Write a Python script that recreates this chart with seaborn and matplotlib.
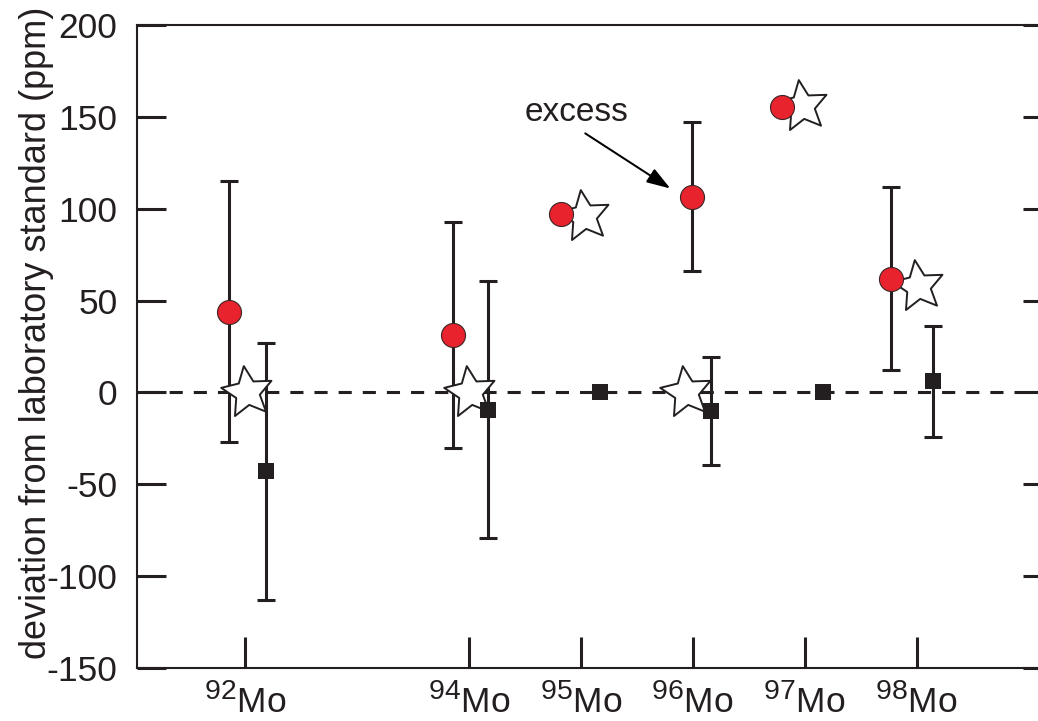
import numpy as np
import pandas as pd
import matplotlib
matplotlib.use("Agg")
import matplotlib.pyplot as plt
import matplotlib._mathtext as mathtext_internal
import seaborn as sns
from matplotlib.markers import MarkerStyle
from matplotlib.path import Path
from matplotlib.transforms import Affine2D

# ---------------- data ----------------
isotopes = [92, 94, 95, 96, 97, 98]
tick_labels = [r"$^{92}$Mo", r"$^{94}$Mo", r"$^{95}$Mo", r"$^{96}$Mo", r"$^{97}$Mo", r"$^{98}$Mo"]
y_ticks = [-150, -100, -50, 0, 50, 100, 150, 200]

# red circles (excess samples)
excess_x = [91.86, 93.86, 94.82, 95.99, 96.80, 97.77]
excess_y = [44, 31, 97, 106.5, 155.5, 62]
excess_err = [71, 61.5, None, 40.5, None, 50]

# open stars (model)
model_x = [92.02, 94.01, 95.03, 95.94, 96.98, 98.01]
model_y = [0, 0, 96, 0, 156, 58]

# black squares (standard)
standard_x = [92.19, 94.17, 95.17, 96.16, 97.16, 98.15]
standard_y = [-43, -9.5, 0, -10, 0, 6]
standard_err = [70, 70, None, 29.5, None, 30]

annot_text = "excess"
annot_tip = (95.80, 111)
annot_tail = (95.04, 141)
annot_text_pos = (94.50, 148)

# ---------------- style ----------------
sns.set_theme(style="ticks")
plt.rcParams["font.family"] = ["Liberation Sans", "DejaVu Sans"]
plt.rcParams["mathtext.fontset"] = "custom"
plt.rcParams["mathtext.rm"] = "Liberation Sans"
plt.rcParams["mathtext.default"] = "regular"
mathtext_internal.SHRINK_FACTOR = 0.8  # larger superscript mass numbers

INK = "#231F20"
RED = "#E8232D"

fig = plt.figure(figsize=(10.38, 7.21), dpi=100)
ax = fig.add_axes([137 / 1038, 53 / 721, 915 / 1038, 643 / 721])

df_ex = pd.DataFrame({"x": excess_x, "y": excess_y, "err": excess_err})
df_mo = pd.DataFrame({"x": model_x, "y": model_y})
df_st = pd.DataFrame({"x": standard_x, "y": standard_y, "err": standard_err})

# zero reference line
ax.axhline(0, xmin=0.009, xmax=0.970, color=INK, lw=2.2, ls=(0, (4.3, 3.6)), zorder=1)

# error bars
for d in (df_ex, df_st):
    e = d.dropna(subset=["err"])
    ax.errorbar(e["x"], e["y"], yerr=e["err"], fmt="none", ecolor=INK,
                elinewidth=2.2, capsize=6.4, capthick=2.2, zorder=2)

# fat, slightly tilted five-pointed star
star_path = Path.unit_regular_star(5, 0.47).transformed(Affine2D().rotate_deg(8))
star = MarkerStyle(star_path)
sns.scatterplot(data=df_mo, x="x", y="y", marker=star, s=38 ** 2,
                color="white", edgecolor=INK, linewidth=1.4, zorder=3, ax=ax)
sns.scatterplot(data=df_ex, x="x", y="y", marker="o", s=17.3 ** 2,
                color=RED, edgecolor="#3a2526", linewidth=0.8, zorder=4, ax=ax)
sns.scatterplot(data=df_st, x="x", y="y", marker="s", s=11.5 ** 2,
                color=INK, edgecolor=INK, linewidth=0, zorder=4, ax=ax)

# annotation
ax.text(annot_text_pos[0], annot_text_pos[1], annot_text, fontsize=24,
        color=INK, ha="left", va="baseline")
ax.annotate("", xy=annot_tip, xytext=annot_tail,
            arrowprops=dict(arrowstyle="-|>,head_length=0.9,head_width=0.3",
                            lw=1.45, color="black", mutation_scale=16,
                            shrinkA=0, shrinkB=0))

# axes
ax.set_xlim(91.035, 99.21)
ax.set_ylim(-150, 200)
ax.set_xticks(isotopes)
ax.set_xticklabels(tick_labels)
ax.set_yticks(y_ticks)
ax.set_yticklabels([str(v) for v in y_ticks])
ax.set_xlabel("")
ax.set_ylabel("deviation from laboratory standard (ppm)", fontsize=26, color=INK)
ax.yaxis.set_label_coords(-0.091, 0.521)

ax.tick_params(axis="y", which="major", direction="in", length=21, width=2.2,
               labelsize=25.5, pad=14, colors=INK, left=True, right=True)
ax.tick_params(axis="x", which="major", direction="in", length=22, width=2.2,
               labelsize=25.5, pad=11, colors=INK, bottom=True, top=False)

for side in ("left", "right", "top", "bottom"):
    ax.spines[side].set_visible(True)
    ax.spines[side].set_linewidth(1.5)
    ax.spines[side].set_color(INK)

fig.savefig("out.png", dpi=100)
